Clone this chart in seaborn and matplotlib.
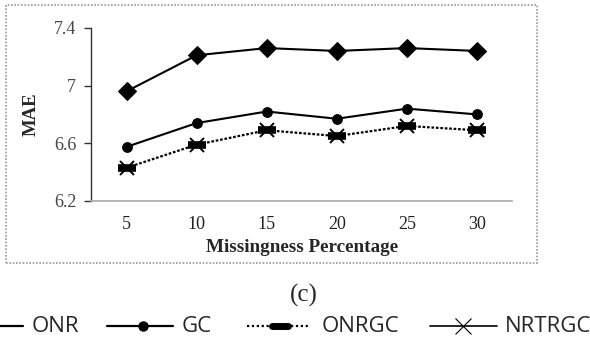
import matplotlib
matplotlib.use("Agg")
import matplotlib.pyplot as plt
import seaborn as sns
import pandas as pd
from matplotlib.lines import Line2D
from matplotlib.patches import Rectangle

missing = [5, 10, 15, 20, 25, 30]
onr = [6.96, 7.21, 7.26, 7.24, 7.26, 7.24]
gc = [6.575, 6.74, 6.82, 6.77, 6.84, 6.80]
onrgc = [6.43, 6.59, 6.69, 6.65, 6.72, 6.69]
nrtrgc = [6.43, 6.59, 6.69, 6.65, 6.72, 6.69]
series_names = ["ONR", "GC", "ONRGC", "NRTRGC"]

sns.set_style("white")
plt.rcParams["font.family"] = ["Liberation Serif", "DejaVu Serif"]

fig = plt.figure(figsize=(5.9, 3.4), dpi=100)
ax = fig.add_axes([0.155, 0.409, 0.713, 0.509])

df = pd.DataFrame({"x": missing, "onr": onr, "gc": gc, "onrgc": onrgc, "nrtrgc": nrtrgc})

sns.lineplot(data=df, x="x", y="onr", ax=ax, color="black", lw=1.5,
             marker="D", markersize=9.5, markeredgecolor="black")
sns.lineplot(data=df, x="x", y="gc", ax=ax, color="black", lw=1.5,
             marker="o", markersize=7, markeredgecolor="black")
sns.lineplot(data=df, x="x", y="onrgc", ax=ax, color="black", lw=1.6,
             linestyle=(0, (1.2, 0.8)), marker="_", markersize=13,
             markeredgewidth=5.5, markeredgecolor="black")
sns.lineplot(data=df, x="x", y="nrtrgc", ax=ax, color="black", lw=0,
             marker="x", markersize=10, markeredgewidth=1.4, markeredgecolor="black")

ax.set_xlim(2.5, 32.5)
ax.set_ylim(6.2, 7.4)
ax.set_xticks(missing)
ax.set_yticks([6.2, 6.6, 7.0, 7.4])
ax.set_yticklabels(["6.2", "6.6", "7", "7.4"])
ax.tick_params(axis="y", length=5, width=1, color="#333333", left=True, labelsize=13,
               labelcolor="#444444", pad=6)
ax.tick_params(axis="x", length=0, labelsize=13, labelcolor="#222222", pad=11)

for s in ["top", "right"]:
    ax.spines[s].set_visible(False)
ax.spines["left"].set_color("#333333")
ax.spines["left"].set_linewidth(1)
ax.spines["bottom"].set_color("#aaaaaa")
ax.spines["bottom"].set_linestyle((0, (1, 1)))
ax.spines["bottom"].set_linewidth(1.2)

ax.set_xlabel("Missingness Percentage", fontsize=13.8, fontweight="bold", labelpad=4)
ax.set_ylabel("MAE", fontsize=13.5, fontweight="bold", labelpad=10)

# outer dotted frame
fig.patches.append(Rectangle((0.0102, 0.226), 0.9, 0.759, transform=fig.transFigure,
                             fill=False, edgecolor="#999999", lw=1.2, linestyle=(0, (1, 1))))

fig.text(0.515, 1 - 295 / 340, "(c)", ha="center", va="center", fontsize=18)

# legend row drawn in pixel space
lax = fig.add_axes([0, 0, 1, 1], facecolor="none")
lax.set_xlim(0, 590)
lax.set_ylim(340, 0)
lax.axis("off")
ly = 326
lax.plot([0, 23], [ly, ly], color="black", lw=1.6)
lax.plot([107, 173], [ly, ly], color="black", lw=1.6)
lax.plot([143], [ly], "o", color="black", markersize=6.5)
lax.plot([247, 310], [ly, ly], color="black", lw=1.6, linestyle=(0, (1, 1.2)))
lax.plot([272, 288], [ly, ly], color="black", lw=5, solid_capstyle="round")
lax.plot([430, 497], [ly, ly], color="black", lw=1.2)
lax.plot([463], [ly], "x", color="black", markersize=11, markeredgewidth=0.8)
for x0, name in zip([32, 182, 322, 505], series_names):
    lax.text(x0, ly, name, ha="left", va="center", fontsize=16, family="Open Sans")

fig.savefig("out.png", dpi=100)
